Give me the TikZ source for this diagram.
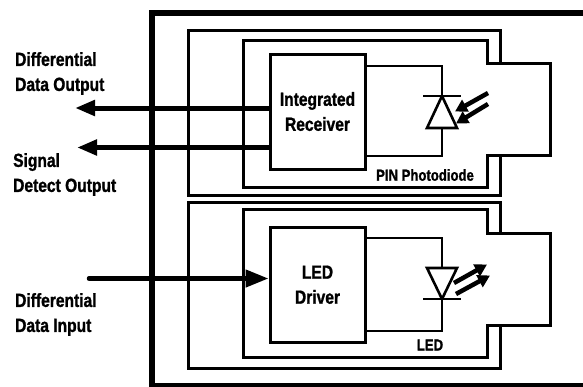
\documentclass[tikz,border=0pt]{standalone}
\usepackage{fontspec}
\setmainfont{Liberation Sans}[FakeStretch=0.82, BoldFeatures={FakeBold=1.2}]
\usetikzlibrary{arrows.meta}
\begin{document}
\begin{tikzpicture}[x=1pt,y=-1pt,
  outline/.style={line width=3pt, line join=miter},
  wire/.style={line width=2.6pt},
  frame/.style={line width=6pt},
  sig/.style={line width=5pt, -{Triangle[length=20pt,width=15pt]}},
  light/.style={line width=4.5pt, -{Triangle[length=12pt,width=13pt]}},
  blk/.style={draw, line width=3pt, minimum width=95pt, minimum height=115pt, inner sep=0pt,
    font=\fontsize{19}{25}\selectfont\bfseries, align=center},
  lbl/.style={font=\fontsize{19}{25}\selectfont\bfseries, align=left, inner sep=0pt},
  sml/.style={font=\fontsize{16}{20}\selectfont\bfseries, inner sep=0pt}]
\useasboundingbox (0,0) rectangle (583,386);
\begin{scope}
\clip (0,0) rectangle (583,386);
% outer frame
\draw[frame] (590,13) -- (151.5,13) -- (151.5,386) -- (590,386);
\end{scope}

% ---------- upper module ----------
\draw[outline] (500.7,63) -- (500.7,30) -- (188,30) -- (188,195) -- (500.7,195) -- (500.7,155);
\draw[outline] (243.5,40) -- (487,40) -- (487,63) -- (550,63) -- (550,155) -- (487,155) -- (487,187) -- (243.5,187) -- cycle;
\node[blk] (rcv) at (317.5,111.5) {Integrated\\Receiver};
% photodiode
\coordinate (pdk) at (442,96);
\coordinate (pda) at (442,128);
\draw[wire] (rcv.east |- 0,66) -| (pdk);
\draw[wire] (rcv.east |- 0,156) -| (pda);
\draw[line width=2.6pt] (423,96) -- (461,96);
\draw[line width=2.6pt, line join=miter] (pdk) -- (457,128) -- (427,128) -- cycle;
\coordinate (l1s) at (488,93);
\coordinate (l1e) at (455,111.5);
\coordinate (l2s) at (488,104);
\coordinate (l2e) at (456,123.5);
\draw[light] (l1s) -- (l1e);
\draw[light] (l2s) -- (l2e);
\node[sml] (pin) at (425,175) {PIN Photodiode};

% output arrows
\node[lbl, anchor=west] (dout) at (15,73.5) {Differential\\Data Output};
\node[lbl, anchor=west] (sdet) at (13,174.5) {Signal\\Detect Output};
\coordinate (doutTip) at (75,108);
\coordinate (sdetTip) at (77,147.5);
\draw[sig] (rcv.west |- 0,108) -- (doutTip);
\draw[sig] (rcv.west |- 0,147.5) -- (sdetTip);

% ---------- lower module ----------
\draw[outline] (500.7,233) -- (500.7,202) -- (188,202) -- (188,368) -- (500.7,368) -- (500.7,325);
\draw[outline] (243.5,209) -- (487,209) -- (487,233) -- (550,233) -- (550,325) -- (487,325) -- (487,357) -- (243.5,357) -- cycle;
\node[blk, minimum height=115.5pt] (drv) at (317.5,284.75) {LED\\Driver};
% LED
\coordinate (leda) at (442,268);
\coordinate (ledk) at (442,299);
\draw[wire] (drv.east |- 0,238) -| (leda);
\draw[wire] (drv.east |- 0,331) -| (ledk);
\draw[line width=2.6pt, line join=miter] (427,268) -- (457,268) -- (ledk) -- cycle;
\draw[line width=2.6pt] (423,299) -- (461,299);
\coordinate (e1s) at (454,283);
\coordinate (e1e) at (487,264.5);
\coordinate (e2s) at (456,294);
\coordinate (e2e) at (490,275.5);
\draw[light] (e1s) -- (e1e);
\draw[light] (e2s) -- (e2e);
\node[sml] (ledl) at (430,345) {LED};

% input arrow
\node[lbl, anchor=west] (din) at (15,314.5) {Differential\\Data Input};
\coordinate (dinStart) at (89,278.5);
\draw[line width=4.5pt, line cap=round, -{Triangle[length=23pt,width=17pt]}] (dinStart) -- (drv.west |- 0,278.5);
\end{tikzpicture}
\end{document}
